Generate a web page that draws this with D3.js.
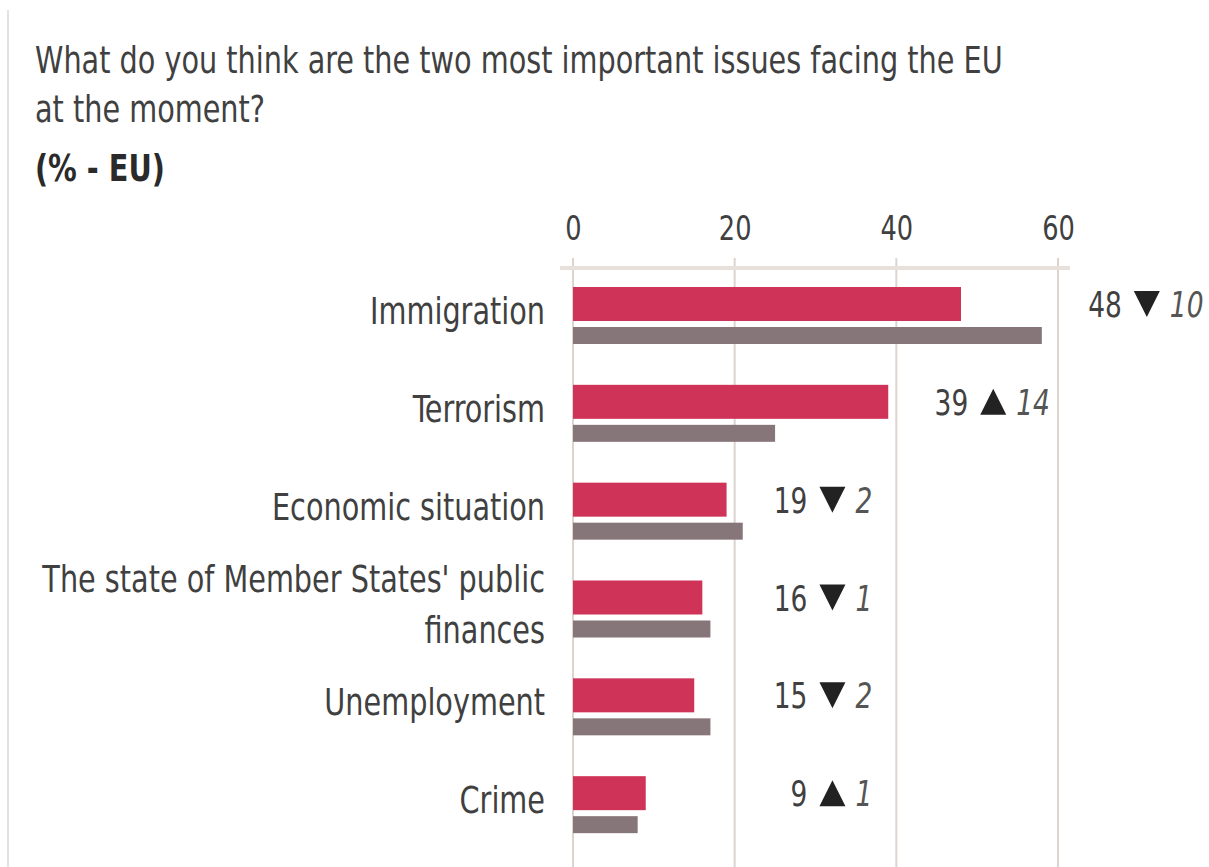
<!DOCTYPE html>
<html>
<head>
  <meta charset="utf-8">
  <title>Most important issues facing the EU</title>
  <style>
  body { margin: 0; background: #fff; }
  svg text { font-family: "DejaVu Sans Condensed", "DejaVu Sans", sans-serif; fill: #404040; }
  </style>
</head>
<body>
  <svg width="1209" height="867"></svg>
  <script src="https://d3js.org/d3.v7.min.js"></script>
  <script>
  // data
  var categories = ["Immigration", "Terrorism", "Economic situation",
                    "The state of Member States' public finances", "Unemployment", "Crime"];
  var labelLines = [["Immigration"], ["Terrorism"], ["Economic situation"],
                    ["The state of Member States' public", "finances"], ["Unemployment"], ["Crime"]];
  var current  = [48, 39, 19, 16, 15, 9];
  var previous = [58, 25, 21, 17, 17, 8];
  var change   = [10, 14, 2, 1, 2, 1];
  var trend    = ["down", "up", "down", "down", "down", "up"];
  var ticks    = [0, 20, 40, 60];
  var titleLines = ["What do you think are the two most important issues facing the EU", "at the moment?"];
  var subtitle = "(% - EU)";

  var svg = d3.select("svg");
  var sx = 0.84; // horizontal squeeze of the narrow type

  function label(g, x, y, str, size, anchor, extra) {
    var t = g.append("text")
      .attr("transform", "translate(" + x + "," + y + ") scale(" + sx + ",1)")
      .attr("font-size", size)
      .attr("text-anchor", anchor || "start")
      .text(str);
    if (extra) extra(t);
    return t;
  }

  // left border
  svg.append("line").attr("x1", 8).attr("x2", 8).attr("y1", 10).attr("y2", 867)
    .attr("stroke", "#e2e2e2").attr("stroke-width", 2);

  // title
  titleLines.forEach(function(s, i) { label(svg, 35, 73 + i * 49, s, 38); });
  label(svg, 35, 181, subtitle, 38, "start", function(t) { t.attr("font-weight", "bold").style("fill", "#2a2a2a"); });

  var x = d3.scaleLinear().domain([0, 60]).range([573, 1058]);
  var y = d3.scaleBand().domain(categories).range([270, 857]);

  // grid
  svg.append("g").selectAll("line").data(ticks).join("line")
    .attr("x1", function(d) { return x(d); }).attr("x2", function(d) { return x(d); })
    .attr("y1", 258).attr("y2", 867)
    .attr("stroke", "#ddd3cf").attr("stroke-width", 2);

  svg.append("line").attr("x1", 560).attr("x2", 1070).attr("y1", 268).attr("y2", 268)
    .attr("stroke", "#e8e0da").attr("stroke-width", 4);

  // axis on top
  var axis = svg.append("g").attr("transform", "translate(0,240)")
    .call(d3.axisTop(x).tickValues(ticks).tickSize(0).tickPadding(0));
  axis.select(".domain").remove();
  axis.selectAll("text")
    .attr("font-size", 34).attr("y", 0).attr("dy", 0)
    .attr("transform", "scale(" + sx + ",1)")
    .style("font-family", "\"DejaVu Sans Condensed\", \"DejaVu Sans\", sans-serif")
    .style("fill", "#404040");

  var rows = categories.map(function(c, i) {
    return {cat: c, lines: labelLines[i], cur: current[i], prev: previous[i], ch: change[i], tr: trend[i]};
  });

  var grp = svg.append("g").selectAll("g").data(rows).join("g")
    .attr("transform", function(d) { return "translate(0," + y(d.cat) + ")"; });

  grp.append("rect").attr("x", x(0)).attr("y", 17).attr("height", 34)
    .attr("width", function(d) { return x(d.cur) - x(0); }).attr("fill", "#cf3458");
  grp.append("rect").attr("x", x(0)).attr("y", 57).attr("height", 17)
    .attr("width", function(d) { return x(d.prev) - x(0); }).attr("fill", "#877679");

  grp.each(function(d) {
    var g = d3.select(this);
    var n = d.lines.length;
    d.lines.forEach(function(s, j) {
      var yy = 54 + (j - (n - 1) / 2) * 51;
      label(g, 545, yy, s, 38, "end");
    });
    // short bars share one annotation column, long ones sit past their bar
    var m = Math.max(d.cur, d.prev);
    var nx = m > 25 ? x(m) + 80 : x(29);
    var cy = 34;
    label(g, nx, cy + 13, d.cur, 35, "end");
    var tx = nx + 25, h = 26, w = 26;
    var pts = d.tr === "down"
      ? [[tx - w / 2, cy - h / 2], [tx + w / 2, cy - h / 2], [tx, cy + h / 2]]
      : [[tx - w / 2, cy + h / 2], [tx + w / 2, cy + h / 2], [tx, cy - h / 2]];
    g.append("path").attr("d", d3.line()(pts) + "Z").attr("fill", "#222");
    label(g, nx + 48, cy + 13, d.ch, 35, "start", function(t) { t.attr("font-style", "italic").style("fill", "#555"); });
  });
  </script>
</body>
</html>
